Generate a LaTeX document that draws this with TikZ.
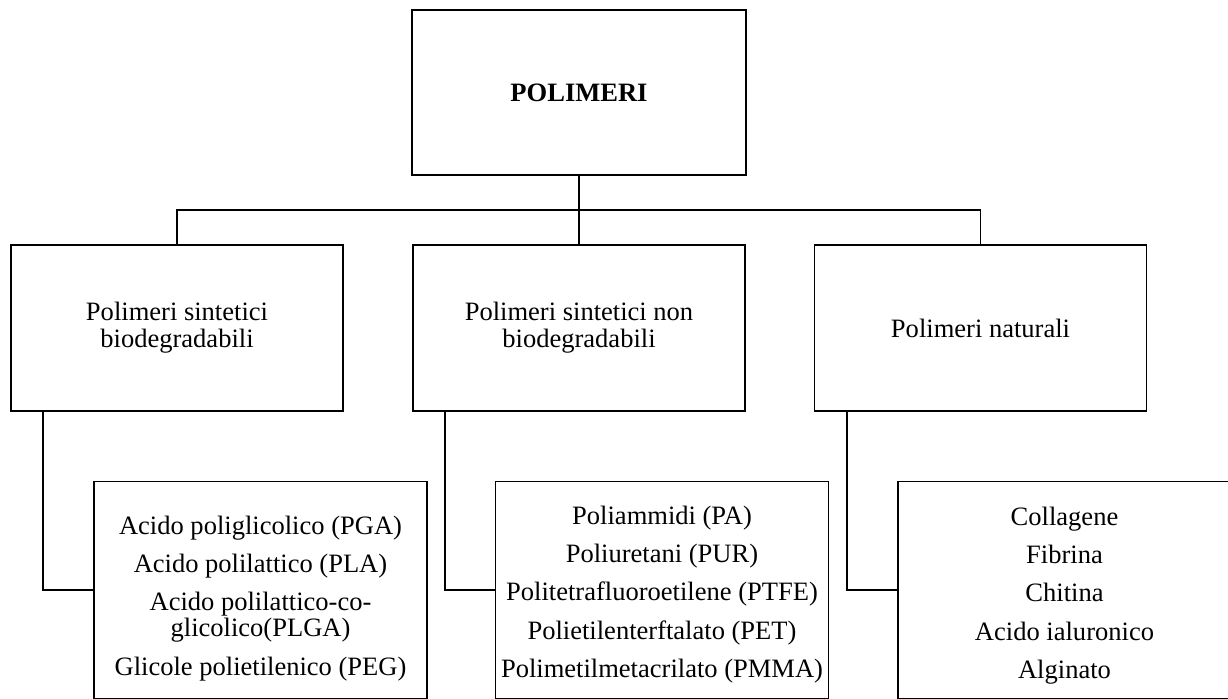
\documentclass[tikz,border=0pt]{standalone}
\usepackage{fontspec}
\setmainfont{Liberation Serif}
\begin{document}
\begin{tikzpicture}[x=0.02cm,y=-0.02cm,line width=0.95pt,
    scatola/.style={draw,rectangle,inner sep=0pt,minimum width=6.64cm,minimum height=3.32cm,align=center,font=\fontsize{15.1pt}{15.4pt}\selectfont},
    elenco/.style={draw,rectangle,inner sep=0pt,minimum width=6.66cm,minimum height=4.34cm},
    voci/.style={inner sep=0pt,anchor=north,align=center,font=\fontsize{15.1pt}{14.8pt}\selectfont}]
    \useasboundingbox (0,0) rectangle (1228,698);

    % Radice
    \node[scatola,minimum width=6.68cm,minimum height=3.3cm,font=\fontsize{15.1pt}{15.4pt}\selectfont\bfseries] (polimeri) at (579,92.5) {POLIMERI};

    % Categorie
    \node[scatola] (sintbio) at (177,328) {Polimeri sintetici\\biodegradabili};
    \node[scatola] (sintnon) at (579,328) {Polimeri sintetici non\\biodegradabili};
    \node[scatola] (naturali) at (980.5,328) {Polimeri naturali};

    \coordinate (snodo) at (579,210);
    \draw (polimeri.south) -- (sintnon.north);
    \draw (sintbio.north) |- (snodo) -| (naturali.north);

    % Elenchi
    \node[elenco] (listabio) at (260.5,590) {};
    \node[elenco] (listanon) at (662,590) {};
    \node[elenco] (listanat) at (1064.5,590) {};

    \node[voci] (vocibio) at (260.5,515) {Acido poliglicolico (PGA)\\[7pt]Acido polilattico (PLA)\\[7pt]Acido polilattico-co-\\glicolico(PLGA)\\[7pt]Glicole polietilenico (PEG)};
    \node[voci] (vocinon) at (662,505) {Poliammidi (PA)\\[7pt]Poliuretani (PUR)\\[7pt]Politetrafluoroetilene (PTFE)\\[7pt]Polietilenterftalato (PET)\\[7pt]Polimetilmetacrilato (PMMA)};
    \node[voci] (vocinat) at (1064.5,506) {Collagene\\[7pt]Fibrina\\[7pt]Chitina\\[7pt]Acido ialuronico\\[7pt]Alginato};

    \draw ([xshift=0.66cm]sintbio.south west) |- (listabio.west);
    \draw ([xshift=0.66cm]sintnon.south west) |- (listanon.west);
    \draw ([xshift=0.66cm]naturali.south west) |- (listanat.west);
\end{tikzpicture}
\end{document}
